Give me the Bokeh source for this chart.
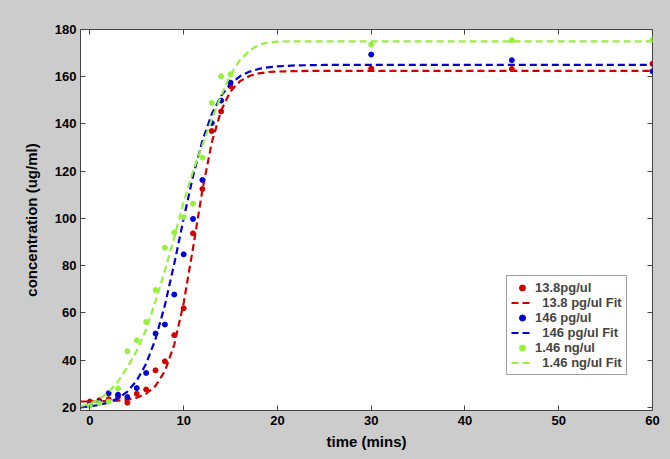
from bokeh.plotting import figure
from bokeh.models import LinearAxis, FixedTicker, Legend, LegendItem, ColumnDataSource
from bokeh.embed import file_html
from bokeh.resources import INLINE

# measured points (time in mins)
t_pts = [0, 1, 2, 3, 4, 5, 6, 7, 8, 9, 10, 11, 12, 13, 14, 15, 30, 45, 60]
red_pts = [22.5, 23, 23.5, 24.5, 22, 25.8, 27.6, 35.7, 39.5, 50.6, 62, 93.7,
           112.5, 137, 145.3, 156, 163.5, 163.3, 165.5]
blue_pts = [21, 22.5, 26, 25.4, 24.4, 28.2, 34.6, 51.3, 55.1, 67.8, 84.8, 99.8,
            116.3, 140.4, 149.9, 157.5, 169.4, 167, 162.3]
green_pts = [20.8, 21.8, 22.5, 28, 43.8, 48.4, 56.2, 69.7, 87.6, 94.1, 100.5, 106.2,
             125.8, 148.9, 160.2, 161, 173.6, 175.5, 175.8]

# fit curves
t_fit = [-1, 0, 1, 2, 3, 4, 5, 6, 7, 8, 9, 10, 11, 12, 13, 14, 15, 16, 17, 18, 19,
         20, 22, 25, 30, 40, 50, 60]
red_fit = [22.5, 22.5, 22.6, 22.7, 22.9, 23.3, 24.1, 25.8, 29.1, 35.4, 46.6, 64.2,
           87.5, 112.0, 132.2, 145.8, 153.8, 158.1, 160.3, 161.4, 162.0,
           162.2, 162.4, 162.5, 162.5, 162.5, 162.5, 162.5]
blue_fit = [20.0, 20.4, 21.1, 22.1, 23.9, 26.7, 31.4, 38.5, 49.0, 63.3, 80.9, 99.9,
            117.9, 132.9, 144.2, 151.9, 157.0, 160.2, 162.1, 163.3, 164.0,
            164.4, 164.8, 165.0, 165.0, 165.0, 165.0, 165.0]
green_fit = [20.5, 21.5, 23.5, 26.5, 31, 37, 44, 53, 65, 78, 92, 107,
             120, 131, 142, 152, 161, 167, 171, 173.5, 174.5,
             174.9, 175, 175, 175, 175, 175, 175]

x_ticks = [0, 10, 20, 30, 40, 50, 60]
y_ticks = [20, 40, 60, 80, 100, 120, 140, 160, 180]

labels = ["13.8pg/ul", "\u00a0\u00a013.8 pg/ul Fit", "146 pg/ul",
          "\u00a0\u00a0146 pg/ul Fit", "1.46 ng/ul", "\u00a0\u00a01.46 ng/ul Fit"]

RED, BLUE, GREEN = "#d00000", "#0000d8", "#96f03c"
FONT = "Liberation Sans"
AX = "#444444"

p = figure(width=670, height=459, x_range=(-1, 60), y_range=(18.7, 180),
           output_backend="svg", toolbar_location=None,
           min_border_left=80, min_border_right=18, min_border_top=29,
           min_border_bottom=49)
p.background_fill_color = "white"
p.border_fill_color = "#cccccc"
p.outline_line_color = AX
p.outline_line_width = 1
p.xgrid.visible = False
p.ygrid.visible = False

p.xaxis.ticker = FixedTicker(ticks=x_ticks)
p.yaxis.ticker = FixedTicker(ticks=y_ticks)
for ax in (p.xaxis[0], p.yaxis[0]):
    ax.axis_line_color = None
    ax.major_tick_in = 5
    ax.major_tick_out = 0
    ax.minor_tick_line_color = None
    ax.major_tick_line_color = AX
    ax.major_label_text_font = FONT
    ax.major_label_text_font_style = "bold"
    ax.major_label_text_font_size = "13px"
    ax.major_label_text_color = "black"
    ax.axis_label_text_font = FONT
    ax.axis_label_text_font_style = "bold"
    ax.axis_label_text_font_size = "15px"
    ax.axis_label_text_color = "black"
p.xaxis.axis_label = "time (mins)"
p.yaxis.axis_label = "concentration (ug/ml)"
p.xaxis.major_label_standoff = 5
p.xaxis.axis_label_standoff = 5
p.yaxis.major_label_standoff = 4
p.yaxis.axis_label_standoff = 12

top = LinearAxis(ticker=FixedTicker(ticks=x_ticks), axis_line_color=None,
                 major_tick_in=5, major_tick_out=0, minor_tick_line_color=None,
                 major_tick_line_color=AX, major_label_standoff=0,
                 major_label_overrides={t: "" for t in x_ticks})
right = LinearAxis(ticker=FixedTicker(ticks=y_ticks), axis_line_color=None,
                   major_tick_in=5, major_tick_out=0, minor_tick_line_color=None,
                   major_tick_line_color=AX, major_label_standoff=0,
                   major_label_overrides={t: "" for t in y_ticks})
p.add_layout(top, "above")
p.add_layout(right, "right")

pts = ColumnDataSource(dict(t=t_pts, r=red_pts, b=blue_pts, g=green_pts))
fit = ColumnDataSource(dict(t=t_fit, r=red_fit, b=blue_fit, g=green_fit))

renderers = []
for col, color in (("r", RED), ("b", BLUE), ("g", GREEN)):
    s = p.scatter("t", col, source=pts, size=5, color=color)
    l = p.line("t", col, source=fit, line_color=color, line_width=2.2,
               line_dash="7 4")
    renderers += [s, l]

items = [LegendItem(label=lab, renderers=[r]) for lab, r in zip(labels, renderers)]
legend = Legend(items=items, location=(426, 35), label_text_font=FONT,
                label_text_font_style="bold", label_text_font_size="13px",
                label_height=15, glyph_height=15, glyph_width=22, spacing=0,
                padding=4, margin=0, label_standoff=2, border_line_color=AX,
                border_line_width=1, background_fill_color="white",
                background_fill_alpha=1.0)
p.add_layout(legend, "center")

html = file_html(p, INLINE)
html = html.replace("</head>", "<style>body{background:#cccccc;}</style></head>", 1)
open("out.html", "w").write(html)
